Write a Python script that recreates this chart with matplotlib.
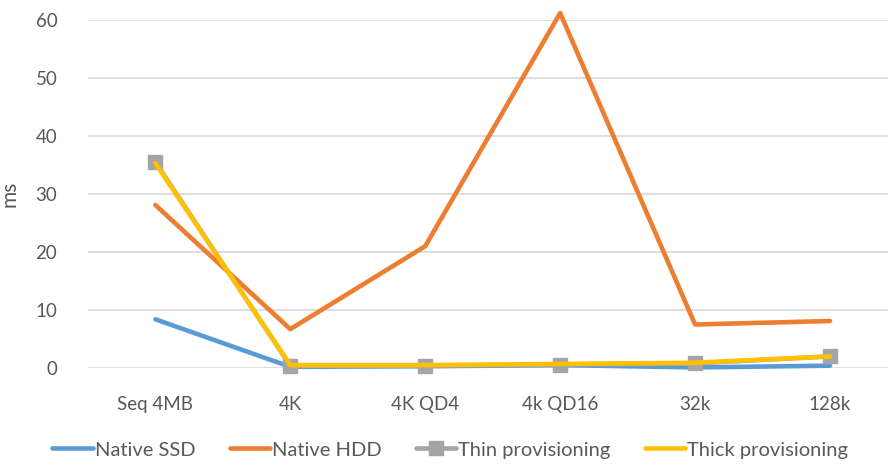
import matplotlib
matplotlib.use("Agg")
import matplotlib.pyplot as plt

# ── Data ──────────────────────────────────────────────────────────────────────
categories = ["Seq 4MB", "4K", "4K QD4", "4k QD16", "32k", "128k"]
native_ssd = [8.4, 0.2, 0.3, 0.5, 0.1, 0.4]
native_hdd = [28.1, 6.7, 21.0, 61.2, 7.5, 8.1]
thin_prov = [35.5, 0.4, 0.4, 0.6, 0.8, 2.0]
thick_prov = [35.3, 0.5, 0.5, 0.7, 0.9, 2.0]

TEXT = "#595959"
plt.rcParams["font.family"] = ["Lato", "DejaVu Sans"]

fig = plt.figure(figsize=(8.88, 4.65), dpi=100, facecolor="white")
ax = fig.add_axes([0.099, 0.2086, 0.901, 0.7484])

x = range(len(categories))
ax.plot(x, native_ssd, color="#5B9BD5", lw=3.3, label="Native SSD",
        solid_capstyle="round", clip_on=False, zorder=3)
ax.plot(x, native_hdd, color="#ED7D31", lw=3.3, label="Native HDD",
        solid_capstyle="round", clip_on=False, zorder=3)
ax.plot(x, thin_prov, color="#A5A5A5", lw=3.3, label="Thin provisioning",
        marker="s", markersize=10, solid_capstyle="round", clip_on=False, zorder=3)
ax.plot(x, thick_prov, color="#FFC000", lw=3.3, label="Thick provisioning",
        solid_capstyle="round", clip_on=False, zorder=3)

ax.set_ylim(0, 60)
ax.set_yticks(range(0, 61, 10))
ax.set_xlim(-0.5, 5.43)
ax.set_xticks(list(x))
ax.set_xticklabels(categories)
ax.yaxis.grid(True, color="#D9D9D9", lw=1.2)
ax.set_axisbelow(True)
for s in ax.spines.values():
    s.set_visible(False)
ax.tick_params(length=0, labelsize=13.5, colors=TEXT)
ax.tick_params(axis="x", pad=20)
ax.tick_params(axis="y", pad=22)
ax.set_ylabel("ms", fontsize=15, color=TEXT, labelpad=0)
ax.yaxis.set_label_coords(-0.085, 0.5)

fig.legend(loc="lower center", bbox_to_anchor=(0.507, -0.025), ncol=4,
           frameon=False, fontsize=14.5, labelcolor=TEXT, handlelength=2.0,
           handletextpad=0.1, columnspacing=1.7)

fig.savefig("out.png", dpi=100, facecolor="white")
